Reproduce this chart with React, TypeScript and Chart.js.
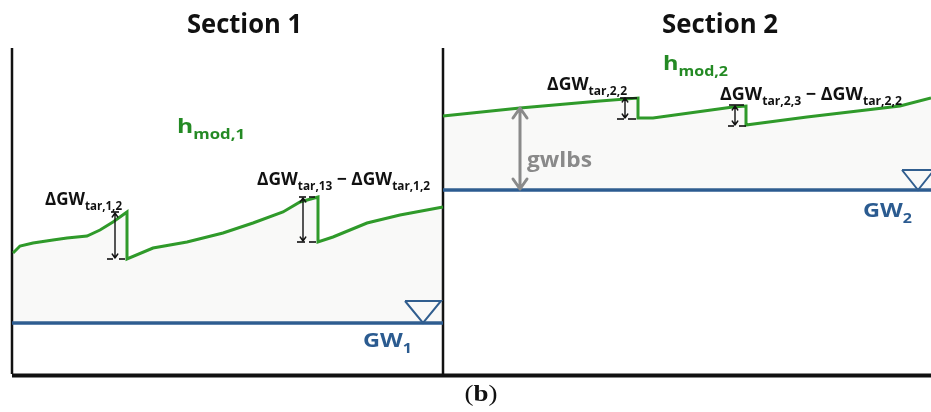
import React, { useEffect, useRef } from "react";
import { Chart, registerables } from "chart.js";

Chart.register(...registerables);

// ---- data (x: horizontal position, h: height above the base line) ----
const sec1X = [13, 20, 33, 53, 67, 87, 100, 113, 127, 127, 153, 187, 223, 253, 283, 300, 318, 318, 333, 367, 400, 443];
const sec1H = [121, 128, 131, 134, 136, 138, 144, 152, 162, 115, 126, 132, 141, 151, 162, 172, 177, 132, 137, 151, 159, 167];
const sec2X = [443, 520, 600, 638, 638, 653, 733, 746, 746, 807, 900, 931];
const sec2H = [258, 266, 273, 276, 256, 256, 267, 268, 249, 257, 268, 276];
const gwLevels = [51, 184];
const sectionEdges = [12, 443, 931];
const sectionTitles = ["Section 1", "Section 2"];
const triangle1X = [405, 441, 423, 405];
const triangle1H = [73, 73, 51, 73];
const triangle2X = [902, 934, 918, 902];
const triangle2H = [204, 204, 184, 204];

const GREEN = "#2f9a2a";
const GREEN_TXT = "#248a24";
const BLUE = "#2b5b90";
const GREY = "#8a8a8a";

const pts = (xs: number[], hs: number[]) => xs.map((x, i) => ({ x, y: hs[i] }));

type Part = { t: string; sub?: boolean };
type Label = { x: number; h: number; parts: Part[]; size: number; width: number; color: string };

const labels: Label[] = [
  { x: 187, h: 341, parts: [{ t: sectionTitles[0] }], size: 26, width: 115, color: "#111" },
  { x: 662, h: 341, parts: [{ t: sectionTitles[1] }], size: 26, width: 116, color: "#111" },
  { x: 177, h: 241, parts: [{ t: "h" }, { t: "mod,1", sub: true }], size: 20, width: 68, color: GREEN_TXT },
  { x: 663, h: 304, parts: [{ t: "h" }, { t: "mod,2", sub: true }], size: 20, width: 65, color: GREEN_TXT },
  { x: 45, h: 169, parts: [{ t: "ΔGW" }, { t: "tar,1,2", sub: true }], size: 18, width: 77, color: "#111" },
  {
    x: 257, h: 189,
    parts: [{ t: "ΔGW" }, { t: "tar,13", sub: true }, { t: " − ΔGW" }, { t: "tar,1,2", sub: true }],
    size: 18, width: 173, color: "#111",
  },
  { x: 547, h: 284, parts: [{ t: "ΔGW" }, { t: "tar,2,2", sub: true }], size: 18, width: 80, color: "#111" },
  {
    x: 720, h: 274,
    parts: [{ t: "ΔGW" }, { t: "tar,2,3", sub: true }, { t: " − ΔGW" }, { t: "tar,2,2", sub: true }],
    size: 18, width: 182, color: "#111",
  },
  { x: 527, h: 207, parts: [{ t: "gwlbs" }], size: 22, width: 65, color: GREY },
  { x: 363, h: 27, parts: [{ t: "GW" }, { t: "1", sub: true }], size: 20, width: 49, color: BLUE },
  { x: 863, h: 157, parts: [{ t: "GW" }, { t: "2", sub: true }], size: 20, width: 49, color: BLUE },
];

// ΔGW markers: double arrows and small ticks
const markerArrows = [
  { x: 115, h1: 161, h2: 116 },
  { x: 303, h1: 176, h2: 133 },
  { x: 625, h1: 276, h2: 256 },
  { x: 735, h1: 268, h2: 249 },
];
const markerTicks = [
  [107, 113, 115], [119, 125, 115], [111, 119, 162],
  [297, 305, 132], [309, 316, 132], [299, 306, 177], [309, 315, 177],
  [617, 624, 255], [628, 636, 255], [620, 637, 276],
  [728, 734, 248], [739, 746, 248], [729, 744, 269],
];
const gwlbsArrow = { x: 520, h1: 266, h2: 185 };

const SANS = '"Open Sans", "Noto Sans", sans-serif';

const annotate = {
  id: "annotate",
  afterDatasetsDraw(chart: any) {
    const ctx: CanvasRenderingContext2D = chart.ctx;
    const xs = chart.scales.x;
    const ys = chart.scales.y;
    const px = (v: number) => xs.getPixelForValue(v);
    const py = (v: number) => ys.getPixelForValue(v);

    // labels
    for (const lb of labels) {
      const sub = lb.size * 0.68;
      const fontMain = `bold ${lb.size}px ${SANS}`;
      const fontSub = `bold ${sub}px ${SANS}`;
      let natural = 0;
      for (const p of lb.parts) {
        ctx.font = p.sub ? fontSub : fontMain;
        natural += ctx.measureText(p.t).width;
      }
      const s = lb.width / natural;
      ctx.save();
      ctx.translate(px(lb.x), py(lb.h));
      ctx.scale(s, 1);
      ctx.fillStyle = lb.color;
      ctx.textBaseline = "alphabetic";
      ctx.textAlign = "left";
      let cx = 0;
      for (const p of lb.parts) {
        ctx.font = p.sub ? fontSub : fontMain;
        ctx.fillText(p.t, cx, p.sub ? lb.size * 0.3 : 0);
        cx += ctx.measureText(p.t).width;
      }
      ctx.restore();
    }

    // marker arrows
    const arrow = (x: number, y1: number, y2: number, color: string, lw: number, hl: number, hw: number) => {
      ctx.save();
      ctx.strokeStyle = color;
      ctx.lineWidth = lw;
      ctx.lineCap = "round";
      ctx.lineJoin = "round";
      ctx.beginPath();
      ctx.moveTo(x, y1);
      ctx.lineTo(x, y2);
      ctx.moveTo(x - hw, y1 + hl);
      ctx.lineTo(x, y1);
      ctx.lineTo(x + hw, y1 + hl);
      ctx.moveTo(x - hw, y2 - hl);
      ctx.lineTo(x, y2);
      ctx.lineTo(x + hw, y2 - hl);
      ctx.stroke();
      ctx.restore();
    };
    for (const a of markerArrows) arrow(px(a.x), py(a.h1), py(a.h2), "#111", 1.4, 4, 2.8);
    ctx.save();
    ctx.strokeStyle = "#111";
    ctx.lineWidth = 1.6;
    for (const t of markerTicks) {
      ctx.beginPath();
      ctx.moveTo(px(t[0]), py(t[2]));
      ctx.lineTo(px(t[1]), py(t[2]));
      ctx.stroke();
    }
    ctx.restore();
    arrow(px(gwlbsArrow.x), py(gwlbsArrow.h1), py(gwlbsArrow.h2), GREY, 3, 10, 7);

    // caption
    ctx.save();
    ctx.fillStyle = "#111";
    ctx.textBaseline = "alphabetic";
    const cy = 401;
    const serif = '"Liberation Serif", "DejaVu Serif", serif';
    const fs = 23;
    ctx.font = `${fs}px ${serif}`;
    const wl = ctx.measureText("(").width;
    ctx.font = `bold ${fs}px ${serif}`;
    const wb = ctx.measureText("b").width;
    const total = wl * 2 + wb;
    const sc = 33 / total;
    ctx.translate(481 - 33 / 2, cy);
    ctx.scale(sc, 1);
    ctx.font = `${fs}px ${serif}`;
    ctx.fillText("(", 0, 0);
    ctx.font = `bold ${fs}px ${serif}`;
    ctx.fillText("b", wl, 0);
    ctx.font = `${fs}px ${serif}`;
    ctx.fillText(")", wl + wb, 0);
    ctx.restore();
  },
};

export default function App() {
  const ref = useRef<HTMLCanvasElement | null>(null);
  useEffect(() => {
    if (!ref.current) return;
    const line = (data: any[], color: string, width: number, extra: any = {}) => ({
      data,
      borderColor: color,
      borderWidth: width,
      pointRadius: 0,
      tension: 0,
      fill: false,
      ...extra,
    });
    const chart = new Chart(ref.current, {
      type: "line",
      data: {
        datasets: [
          line(pts(sec1X, sec1H), GREEN, 3, { fill: { value: gwLevels[0] }, backgroundColor: "rgba(150,160,140,0.06)" }),
          line(pts(sec2X, sec2H), GREEN, 3, { fill: { value: gwLevels[1] }, backgroundColor: "rgba(150,160,140,0.06)" }),
          line(pts([sectionEdges[0], sectionEdges[1]], [gwLevels[0], gwLevels[0]]), BLUE, 3.5),
          line(pts([sectionEdges[1], sectionEdges[2]], [gwLevels[1], gwLevels[1]]), BLUE, 3.5),
          line(pts(triangle1X, triangle1H), BLUE, 2),
          line(pts(triangle2X, triangle2H), BLUE, 2),
          line(pts([sectionEdges[0], sectionEdges[0]], [0, 326]), "#111", 2.5, { clip: false }),
          line(pts([sectionEdges[1], sectionEdges[1]], [0, 326]), "#111", 2.5, { clip: false }),
          line(pts([sectionEdges[0], sectionEdges[2] + 5], [-1.5, -1.5]), "#111", 4, { clip: false }),
        ],
      },
      options: {
        responsive: false,
        animation: false,
        events: [],
        layout: { padding: { left: 12, right: 0, top: 48, bottom: 38 } },
        plugins: { legend: { display: false }, tooltip: { enabled: false } },
        scales: {
          x: { type: "linear", min: 12, max: 931, display: false },
          y: { type: "linear", min: 0, max: 326, display: false },
        },
      },
      plugins: [annotate],
    });
    return () => chart.destroy();
  }, []);
  return (
    <div style={{ position: "absolute", left: 0, top: 0, width: 931, height: 412, background: "#fff" }}>
      <canvas ref={ref} width={931} height={412} />
    </div>
  );
}
